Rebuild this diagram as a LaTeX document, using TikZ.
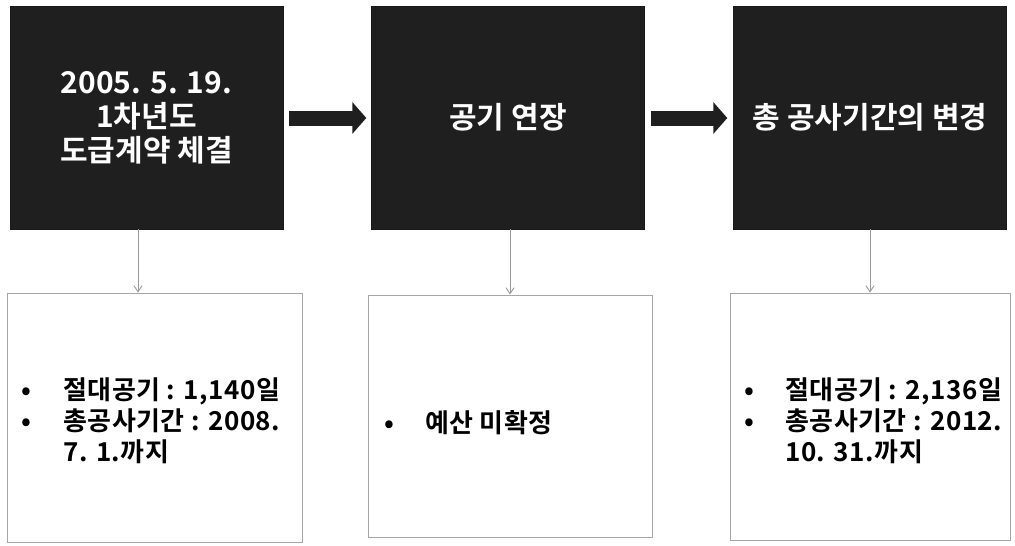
\documentclass[tikz,border=0pt]{standalone}
\usepackage{fontspec}
\setmainfont{Noto Sans CJK KR}[BoldFont={* Bold}]
\usetikzlibrary{arrows.meta}
\begin{document}
\begin{tikzpicture}[x=1pt,y=-1pt,
  topbox/.style={draw=black!90,fill=black!88,minimum width=273pt,minimum height=223pt,
     inner sep=0pt,text=white,font=\bfseries\fontsize{30}{34}\selectfont,align=center},
  lowbox/.style={draw=black!35,line width=0.9pt,fill=white,inner sep=0pt},
  bigarrow/.style={draw=black!88,line width=15pt,-{Triangle[length=14pt,width=31pt]}},
  downarrow/.style={draw=black!40,line width=0.9pt,-{Straight Barb[length=6pt,width=8pt]}},
  bul/.style={anchor=west,inner sep=0pt,align=left,font=\bfseries\fontsize{26}{31}\selectfont\addfontfeature{LetterSpace=2}}]
\useasboundingbox (0,0) rectangle (1015,546);
\fill[white] (0,0) rectangle (1015,546);
% top boxes
\node[topbox] (b1) at (146.5,117.5) {2005. 5. 19.\\1차년도\\도급계약 체결};
\node[topbox] (b2) at (508,117.5) {공기 연장};
\node[topbox] (b3) at (870,117.5) {총 공사기간의 변경};
% lower boxes
\node[lowbox,minimum width=295pt,minimum height=249pt] (l1) at (154.5,417.5) {};
\node[lowbox,minimum width=284pt,minimum height=242pt] (l2) at (510,416) {};
\node[lowbox,minimum width=280pt,minimum height=247pt] (l3) at (870,416.5) {};
% big arrows
\draw[bigarrow,shorten <=6pt,shorten >=5pt] (b1.east |- 0,118) -- (b2.west |- 0,118);
\draw[bigarrow,shorten <=6pt,shorten >=6pt] (b2.east |- 0,118) -- (b3.west |- 0,118);
% down arrows
\draw[downarrow] (b1.south -| 138,0) -- (l1.north -| 138,0);
\draw[downarrow] (b2.south -| 510,0) -- (l2.north -| 510,0);
\draw[downarrow] (b3.south -| 870,0) -- (l3.north -| 870,0);
% texts
\node[bul] (t1) at (21,421) {\makebox[42pt][l]{•}절대공기 : 1,140일\\\makebox[42pt][l]{•}총공사기간 : 2008.\\\hspace*{42pt}7. 1.까지};
\node[bul] (t2) at (384,423) {\makebox[41pt][l]{•}예산 미확정};
\node[bul] (t3) at (744,421) {\makebox[41pt][l]{•}절대공기 : 2,136일\\\makebox[41pt][l]{•}총공사기간 : 2012.\\\hspace*{41pt}10. 31.까지};
\end{tikzpicture}
\end{document}
